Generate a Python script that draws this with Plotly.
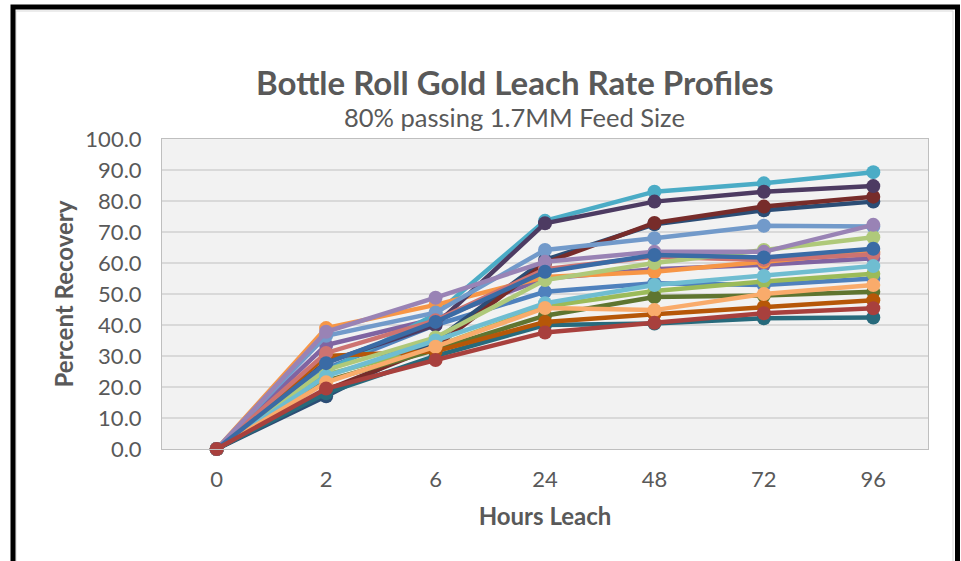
import plotly.graph_objects as go

hours = ["0", "2", "6", "24", "48", "72", "96"]

s01_blue = [0, 26.0, 40.0, 50.7, 53.5, 52.9, 55.0]
s02_red = [0, 19.5, 28.7, 37.6, 40.7, 43.8, 45.4]
s03_green = [0, 24.0, 33.0, 46.0, 51.0, 54.0, 56.5]
s04_purple = [0, 33.5, 42.0, 55.0, 58.0, 59.4, 61.5]
s05_cyan = [0, 25.0, 43.5, 73.6, 83.0, 85.7, 89.3]
s06_orange = [0, 39.0, 46.5, 55.5, 57.2, 60.4, 63.6]
s07_darkblue = [0, 17.0, 35.0, 61.0, 72.5, 77.0, 79.8]
s08_darkred = [0, 19.0, 33.0, 60.0, 72.9, 78.2, 81.4]
s09_darkgreen = [0, 22.0, 32.0, 43.0, 49.0, 49.5, 50.7]
s10_darkpurple = [0, 28.0, 40.0, 72.8, 79.8, 83.0, 84.8]
s11_darkteal = [0, 18.0, 30.0, 40.0, 40.5, 42.2, 42.4]
s12_darkorange = [0, 30.0, 31.5, 41.0, 43.5, 45.9, 48.0]
s13_lightblue = [0, 36.5, 44.0, 64.2, 68.0, 72.0, 71.8]
s14_salmon = [0, 31.0, 41.5, 58.0, 62.0, 61.0, 62.8]
s15_lightgreen = [0, 25.5, 36.0, 54.5, 60.0, 64.2, 68.3]
s16_lavender = [0, 37.8, 48.8, 60.4, 63.6, 63.6, 72.3]
s17_lightcyan = [0, 23.5, 35.0, 47.0, 52.9, 55.8, 59.0]
s18_lightorange = [0, 21.5, 33.0, 45.5, 44.8, 50.0, 52.9]
s19_medblue = [0, 27.7, 41.0, 57.2, 62.6, 61.8, 64.6]

series = [
    (s01_blue, "#4F81BD"),
    (s03_green, "#9BBB59"),
    (s04_purple, "#8064A2"),
    (s05_cyan, "#4BACC6"),
    (s06_orange, "#F79646"),
    (s07_darkblue, "#2C4D75"),
    (s08_darkred, "#772C2A"),
    (s09_darkgreen, "#5F7530"),
    (s10_darkpurple, "#4D3B62"),
    (s11_darkteal, "#276A7C"),
    (s12_darkorange, "#B65708"),
    (s13_lightblue, "#729ACA"),
    (s14_salmon, "#CD7371"),
    (s15_lightgreen, "#AFC97A"),
    (s16_lavender, "#9983B5"),
    (s17_lightcyan, "#6FBDD1"),
    (s18_lightorange, "#F9AB6B"),
    (s19_medblue, "#3A6BA5"),
    (s02_red, "#A8403D"),
]

fig = go.Figure()
for vals, col in series:
    fig.add_trace(go.Scatter(
        x=hours, y=vals, mode="lines+markers",
        line=dict(color=col, width=4.5),
        marker=dict(color=col, size=14),
        cliponaxis=False, showlegend=False,
    ))

W, H = 961, 561
L, R, T, B = 162, 928, 139, 449

def px(x):
    return (x - L) / (R - L)

def py(y):
    return (B - y) / (B - T)

txt = "#595959"
font_family = "Lato, 'Open Sans', sans-serif"

fig.update_layout(
    width=W, height=H,
    margin=dict(l=L, r=W - R, t=T, b=H - B),
    paper_bgcolor="white",
    plot_bgcolor="#F2F2F2",
    font=dict(family=font_family, color=txt, size=22),
    showlegend=False,
    xaxis=dict(
        type="category", range=[-0.5, 6.5],
        showgrid=False, zeroline=False,
        showline=True, linecolor="#BFBFBF", linewidth=1, mirror=True,
        ticks="", tickfont=dict(size=22, color=txt),
        ticklabelstandoff=11,
        title=dict(text="<b>Hours Leach</b>", font=dict(size=24, color=txt), standoff=16),
    ),
    yaxis=dict(
        range=[0, 100], dtick=10, tickformat=".1f",
        showgrid=True, gridcolor="#D9D9D9", gridwidth=1.5, zeroline=False,
        showline=True, linecolor="#BFBFBF", linewidth=1, mirror=True,
        ticks="", tickfont=dict(size=22, color=txt),
        ticklabelstandoff=15,
        title=dict(text="<b>Percent Recovery</b>", font=dict(size=24, color=txt), standoff=4),
    ),
    annotations=[
        dict(text="<b>Bottle Roll Gold Leach Rate Profiles</b>", xref="paper", yref="paper",
             x=px(514), y=py(82), xanchor="center", yanchor="middle", showarrow=False,
             font=dict(size=33, color=txt, family=font_family)),
        dict(text="80% passing 1.7MM Feed Size", xref="paper", yref="paper",
             x=px(514), y=py(117), xanchor="center", yanchor="middle", showarrow=False,
             font=dict(size=25.5, color=txt, family=font_family)),
    ],
    shapes=[
        dict(type="rect", xref="paper", yref="paper",
             x0=px(16), x1=px(953), y0=py(600), y1=py(11),
             line=dict(color="#D9D9D9", width=1), fillcolor="rgba(0,0,0,0)", layer="above"),
        dict(type="rect", xref="paper", yref="paper",
             x0=px(13), x1=px(957.5), y0=py(620), y1=py(7),
             line=dict(color="black", width=5), fillcolor="rgba(0,0,0,0)", layer="above"),
    ],
)

fig.write_html(
    "out.html",
    config={"displayModeBar": False},
    post_script="document.body.style.margin='0';document.body.style.overflow='hidden';",
)
